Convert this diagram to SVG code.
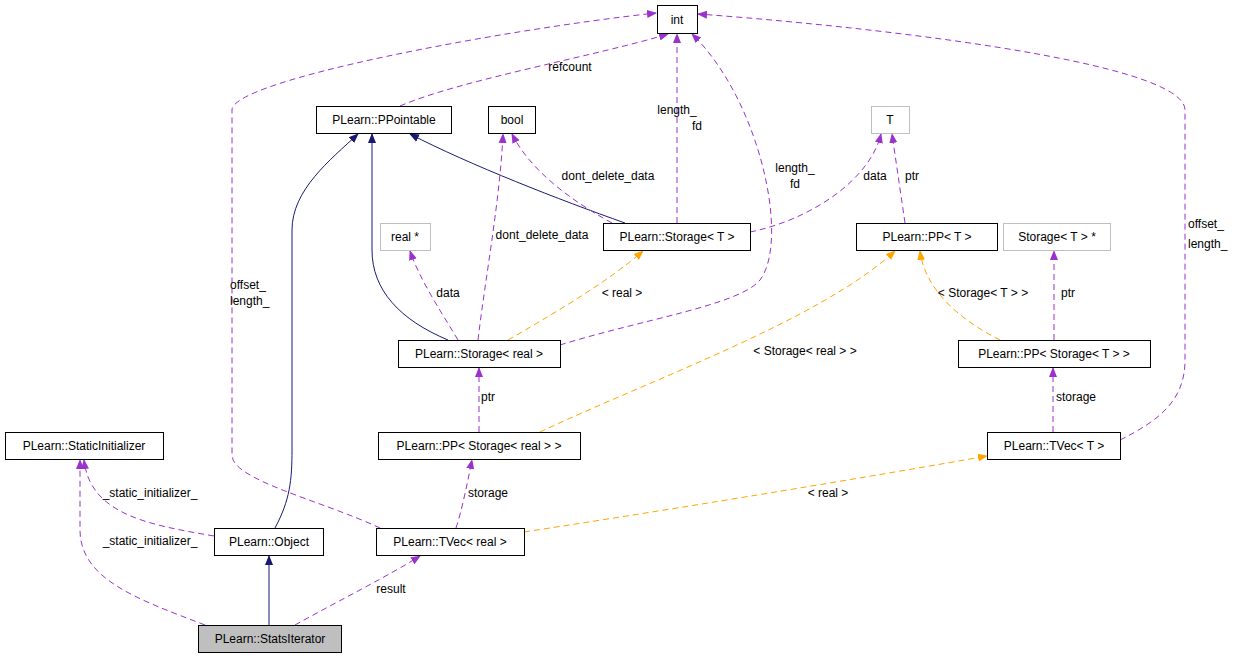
<svg xmlns="http://www.w3.org/2000/svg" width="1235" height="659" viewBox="0 0 1235 659">
<style>
text{font-family:"Liberation Sans",Arial,sans-serif;font-size:12px;fill:#000}
.n rect{fill:#fff;stroke:#000;stroke-width:1}
.g rect{stroke:#bfbfbf}
.t{text-anchor:middle}
.p{fill:none;stroke:#9a32cd;stroke-dasharray:6,4}
.o{fill:none;stroke:#ffa500;stroke-dasharray:6,4}
.s{fill:none;stroke:#191970}
</style>
<defs>
<marker id="mp" markerWidth="10" markerHeight="10" refX="9" refY="5" orient="auto" markerUnits="userSpaceOnUse"><path d="M0,1 L10,5 L0,9 z" fill="#9a32cd"/></marker>
<marker id="mo" markerWidth="10" markerHeight="10" refX="9" refY="5" orient="auto" markerUnits="userSpaceOnUse"><path d="M0,1 L10,5 L0,9 z" fill="#ffa500"/></marker>
<marker id="ms" markerWidth="10" markerHeight="10" refX="9" refY="5" orient="auto" markerUnits="userSpaceOnUse"><path d="M0,1 L10,5 L0,9 z" fill="#191970"/></marker>
</defs>
<rect width="1235" height="659" fill="#fff"/>
<g id="edges">
<path class="p" marker-end="url(#mp)" d="M400,106 C460,80 600,55 668,34"/>
<text x="570" y="71" class="t">refcount</text>
<path class="p" marker-end="url(#mp)" d="M380,528 C320,500 232,480 232,455 L232,110 C232,80 500,30 656,13"/>
<text x="230" y="289">offset_</text><text x="230" y="305">length_</text>
<path class="p" marker-end="url(#mp)" d="M677,223 L677,34"/>
<text x="677" y="114" class="t">length_</text><text x="697" y="130" class="t">fd</text>
<path class="p" marker-end="url(#mp)" d="M560,345 C640,320 740,305 760,280 C790,240 760,100 692,34"/>
<text x="795" y="172" class="t">length_</text><text x="795" y="188" class="t">fd</text>
<path class="p" marker-end="url(#mp)" d="M1120,440 C1160,420 1185,400 1185,360 L1185,110 C1185,60 850,25 698,14"/>
<text x="1188" y="228">offset_</text><text x="1188" y="248">length_</text>
<path class="s" marker-end="url(#ms)" d="M625,223 C560,200 470,165 410,134"/>
<path class="p" marker-end="url(#mp)" d="M612,223 C570,200 530,170 512,134"/>
<text x="608" y="180" class="t">dont_delete_data</text>
<path class="p" marker-end="url(#mp)" d="M750,232 C810,220 870,180 881,134"/>
<text x="875" y="180" class="t">data</text>
<path class="p" marker-end="url(#mp)" d="M905,223 L892,134"/>
<text x="912" y="180" class="t">ptr</text>
<path class="p" marker-end="url(#mp)" d="M1054,340 L1054,251"/>
<text x="1068" y="297" class="t">ptr</text>
<path class="o" marker-end="url(#mo)" d="M1000,340 C960,320 925,290 920,251"/>
<text x="983" y="297" class="t">&lt; Storage&lt; T &gt; &gt;</text>
<path class="s" marker-end="url(#ms)" d="M448,340 C400,320 372,290 372,250 L372,134"/>
<path class="p" marker-end="url(#mp)" d="M458,340 C440,310 420,280 410,251"/>
<text x="448" y="297" class="t">data</text>
<path class="p" marker-end="url(#mp)" d="M478,340 C485,280 500,200 503,134"/>
<text x="542" y="239" class="t">dont_delete_data</text>
<path class="o" marker-end="url(#mo)" d="M508,340 C560,310 610,280 643,251"/>
<text x="622" y="297" class="t">&lt; real &gt;</text>
<path class="o" marker-end="url(#mo)" d="M540,432 C650,380 820,320 895,251"/>
<text x="805" y="355" class="t">&lt; Storage&lt; real &gt; &gt;</text>
<path class="p" marker-end="url(#mp)" d="M479,432 L479,368"/>
<text x="488" y="401" class="t">ptr</text>
<path class="p" marker-end="url(#mp)" d="M1053,432 L1053,368"/>
<text x="1076" y="401" class="t">storage</text>
<path class="o" marker-end="url(#mo)" d="M524,532 C700,505 880,475 987,456"/>
<text x="828" y="497" class="t">&lt; real &gt;</text>
<path class="p" marker-end="url(#mp)" d="M456,528 C462,510 468,480 472,460"/>
<text x="488" y="497" class="t">storage</text>
<path class="s" marker-end="url(#ms)" d="M275,528 C290,500 292,480 292,450 L292,230 C292,190 330,160 358,134"/>
<path class="p" marker-end="url(#mp)" d="M214,536 C150,525 90,515 84,460"/>
<text x="150" y="497" class="t">_static_initializer_</text>
<path class="p" marker-end="url(#mp)" d="M205,625 C140,600 80,580 80,530 L80,460"/>
<text x="150" y="545" class="t">_static_initializer_</text>
<path class="s" marker-end="url(#ms)" d="M269,625 L269,556"/>
<path class="p" marker-end="url(#mp)" d="M295,625 C340,600 390,575 420,556"/>
<text x="391" y="593" class="t">result</text>
</g>
<g id="n_int" class="n"><rect x="657.5" y="5.5" width="40" height="28"/><text x="677" y="24" class="t">int</text></g>
<g id="n_ppointable" class="n"><rect x="316.5" y="106.5" width="135" height="27"/><text x="384" y="124" class="t">PLearn::PPointable</text></g>
<g id="n_bool" class="n"><rect x="488.5" y="106.5" width="47" height="27"/><text x="512" y="124" class="t">bool</text></g>
<g id="n_T" class="n g"><rect x="871.5" y="106.5" width="38" height="27"/><text x="890" y="124" class="t">T</text></g>
<g id="n_realp" class="n g"><rect x="380.5" y="223.5" width="50" height="27"/><text x="405" y="241" class="t">real *</text></g>
<g id="n_storageT" class="n"><rect x="603.5" y="223.5" width="147" height="27"/><text x="677" y="241" class="t">PLearn::Storage&lt; T &gt;</text></g>
<g id="n_ppT" class="n"><rect x="856.5" y="223.5" width="141" height="27"/><text x="927" y="241" class="t">PLearn::PP&lt; T &gt;</text></g>
<g id="n_storageTp" class="n g"><rect x="1003.5" y="223.5" width="107" height="27"/><text x="1057" y="241" class="t">Storage&lt; T &gt; *</text></g>
<g id="n_storageReal" class="n"><rect x="398.5" y="340.5" width="162" height="27"/><text x="479" y="358" class="t">PLearn::Storage&lt; real &gt;</text></g>
<g id="n_ppStorageT" class="n"><rect x="958.5" y="340.5" width="192" height="27"/><text x="1054" y="358" class="t">PLearn::PP&lt; Storage&lt; T &gt; &gt;</text></g>
<g id="n_staticInit" class="n"><rect x="5.5" y="432.5" width="158" height="27"/><text x="84" y="450" class="t">PLearn::StaticInitializer</text></g>
<g id="n_ppStorageReal" class="n"><rect x="378.5" y="432.5" width="202" height="27"/><text x="479" y="450" class="t">PLearn::PP&lt; Storage&lt; real &gt; &gt;</text></g>
<g id="n_tvecT" class="n"><rect x="987.5" y="432.5" width="133" height="27"/><text x="1054" y="450" class="t">PLearn::TVec&lt; T &gt;</text></g>
<g id="n_object" class="n"><rect x="214.5" y="528.5" width="109" height="27"/><text x="269" y="546" class="t">PLearn::Object</text></g>
<g id="n_tvecReal" class="n"><rect x="376.5" y="528.5" width="148" height="27"/><text x="450" y="546" class="t">PLearn::TVec&lt; real &gt;</text></g>
<g id="n_stats" class="n"><rect x="198.5" y="625.5" width="143" height="27" style="fill:#bfbfbf"/><text x="270" y="643" class="t">PLearn::StatsIterator</text></g>
</svg>
